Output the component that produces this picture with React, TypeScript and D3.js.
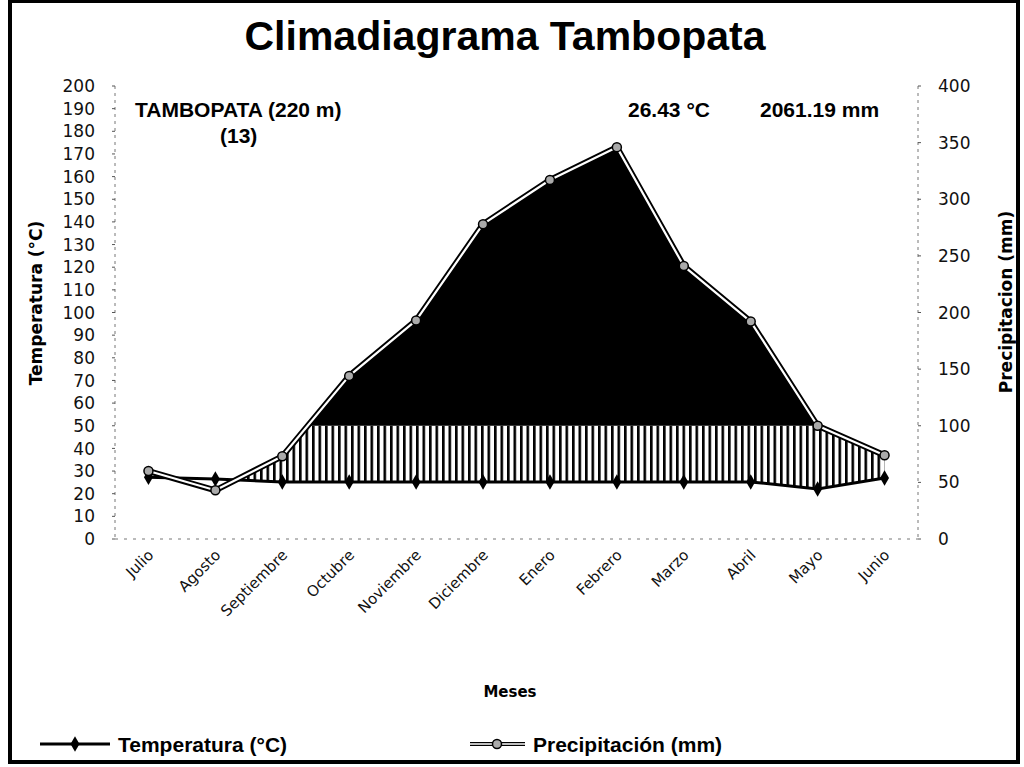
import React from 'react';
import * as d3 from 'd3';

const meses = ['Julio', 'Agosto', 'Septiembre', 'Octubre', 'Noviembre', 'Diciembre', 'Enero', 'Febrero', 'Marzo', 'Abril', 'Mayo', 'Junio'];
const temperatura = [27.3, 26.5, 25.2, 25.2, 25.2, 25.2, 25.2, 25.2, 25.2, 25.2, 22.1, 26.9];
const precipitacion = [60, 43, 73, 144, 193, 278, 317, 346, 241, 192, 100, 74];
const tempDomain = [0, 200];
const precDomain = [0, 400];
const humedoLimite = 100; // mm, above this the area is filled black

const W = 1024;
const H = 767;
const plot = { left: 115, right: 918, top: 86, bottom: 539 };

const App = () => {
  const x = d3.scaleBand().domain(meses).range([plot.left, plot.right]);
  const cx = (m: string) => (x(m) as number) + x.bandwidth() / 2;
  const yT = d3.scaleLinear().domain(tempDomain).range([plot.bottom, plot.top]);
  const yP = d3.scaleLinear().domain(precDomain).range([plot.bottom, plot.top]);

  const rows = meses.map((m, i) => ({ m, t: temperatura[i], p: precipitacion[i] }));

  const lineT = d3.line<any>().x(d => cx(d.m)).y(d => yT(d.t));
  const lineP = d3.line<any>().x(d => cx(d.m)).y(d => yP(d.p));
  const underP = d3.area<any>().x(d => cx(d.m)).y0(plot.bottom).y1(d => yP(d.p));
  const aboveT = d3.area<any>().x(d => cx(d.m)).y0(d => yT(d.t)).y1(0);

  const yLim = yP(humedoLimite);
  const diamond = d3.symbol().type(d3.symbolDiamond).size(70)();

  const tickFont = { fontFamily: 'DejaVu Sans', fontSize: 17, fill: '#111' };

  return (
    <svg width={W} height={H} style={{ position: 'absolute', left: 0, top: 0, background: '#fff' }}>
      <defs>
        <pattern id="hatch" width={6.5} height={10} patternUnits="userSpaceOnUse">
          <rect x={0} y={0} width={2.6} height={10} fill="#000" />
        </pattern>
        <clipPath id="clipUnderP"><path d={underP(rows) as string} /></clipPath>
        <clipPath id="clipAboveT"><path d={aboveT(rows) as string} /></clipPath>
        <clipPath id="clipBelowLim"><rect x={0} y={yLim} width={W} height={H - yLim} /></clipPath>
        <clipPath id="clipAboveLim"><rect x={0} y={0} width={W} height={yLim} /></clipPath>
      </defs>

      <rect x={10} y={1} width={1008} height={761} fill="none" stroke="#000" strokeWidth={4} />

      <text x={505} y={50} textAnchor="middle" fontFamily="Liberation Sans" fontWeight="bold" fontSize={41}>Climadiagrama Tambopata</text>

      {/* axes (faint dotted, like the scan) */}
      <line x1={plot.left} x2={plot.left} y1={plot.top} y2={plot.bottom} stroke="#777" strokeWidth={1} strokeDasharray="3,4" />
      <line x1={plot.right} x2={plot.right} y1={plot.top} y2={plot.bottom} stroke="#777" strokeWidth={1} strokeDasharray="3,4" />
      <line x1={plot.left} x2={plot.right} y1={plot.bottom} y2={plot.bottom} stroke="#777" strokeWidth={1} strokeDasharray="3,6" />

      {yT.ticks(20).map(v => (
        <g key={'l' + v}>
          <line x1={plot.left - 3} x2={plot.left} y1={yT(v)} y2={yT(v)} stroke="#555" />
          <text x={95} y={yT(v)} dy="0.36em" textAnchor="end" {...tickFont}>{v}</text>
        </g>
      ))}
      {yP.ticks(8).map(v => (
        <g key={'r' + v}>
          <line x1={plot.right} x2={plot.right + 3} y1={yP(v)} y2={yP(v)} stroke="#555" />
          <text x={938} y={yP(v)} dy="0.36em" textAnchor="start" {...tickFont}>{v}</text>
        </g>
      ))}

      <text transform={`translate(42,303) rotate(-90)`} textAnchor="middle" fontFamily="DejaVu Sans" fontWeight="bold" fontSize={17}>Temperatura (°C)</text>
      <text transform={`translate(1012,302) rotate(-90)`} textAnchor="middle" fontFamily="DejaVu Sans" fontWeight="bold" fontSize={17}>Precipitacion (mm)</text>

      {/* humid period: hatch between T and min(P, 100 mm) */}
      <g clipPath="url(#clipAboveT)">
        <g clipPath="url(#clipBelowLim)">
          <rect x={plot.left} y={plot.top} width={plot.right - plot.left} height={plot.bottom - plot.top} fill="url(#hatch)" clipPath="url(#clipUnderP)" />
        </g>
      </g>
      {/* super-humid: black above 100 mm */}
      <g clipPath="url(#clipAboveLim)">
        <path d={underP(rows) as string} fill="#000" />
      </g>

      <path d={lineT(rows) as string} fill="none" stroke="#000" strokeWidth={3} />
      {rows.map(d => (
        <path key={'t' + d.m} d={diamond as string} transform={`translate(${cx(d.m)},${yT(d.t)})`} fill="#000" />
      ))}

      <path d={lineP(rows) as string} fill="none" stroke="#000" strokeWidth={6} strokeLinejoin="round" />
      <path d={lineP(rows) as string} fill="none" stroke="#fff" strokeWidth={2.2} strokeLinejoin="round" />
      {rows.map(d => (
        <circle key={'p' + d.m} cx={cx(d.m)} cy={yP(d.p)} r={4.5} fill="#aaa" stroke="#000" strokeWidth={1.5} />
      ))}

      {meses.map(m => (
        <text key={m} transform={`translate(${cx(m) + 6},${plot.bottom + 17}) rotate(-45)`} textAnchor="end" fontFamily="DejaVu Sans" fontSize={15} fill="#111">{m}</text>
      ))}

      <text x={135} y={117} fontFamily="Liberation Sans" fontWeight="bold" fontSize={21}>TAMBOPATA (220 m)</text>
      <text x={220} y={143} fontFamily="Liberation Sans" fontWeight="bold" fontSize={21}>(13)</text>
      <text x={628} y={117} fontFamily="Liberation Sans" fontWeight="bold" fontSize={21}>26.43 °C</text>
      <text x={760} y={117} fontFamily="Liberation Sans" fontWeight="bold" fontSize={21}>2061.19 mm</text>

      <text x={510} y={697} textAnchor="middle" fontFamily="DejaVu Sans" fontWeight="bold" fontSize={15}>Meses</text>

      <g transform="translate(0,744)">
        <line x1={40} x2={110} y1={0} y2={0} stroke="#000" strokeWidth={3} />
        <path d={diamond as string} transform="translate(75,0)" fill="#000" />
        <text x={118} y={8} fontFamily="Liberation Sans" fontWeight="bold" fontSize={21}>Temperatura (°C)</text>
        <line x1={470} x2={525} y1={0} y2={0} stroke="#000" strokeWidth={4} />
        <line x1={470} x2={525} y1={0} y2={0} stroke="#fff" strokeWidth={1.5} />
        <circle cx={497} cy={0} r={4.5} fill="#aaa" stroke="#000" strokeWidth={1.5} />
        <text x={533} y={8} fontFamily="Liberation Sans" fontWeight="bold" fontSize={21}>Precipitación (mm)</text>
      </g>
    </svg>
  );
};

export default App;
